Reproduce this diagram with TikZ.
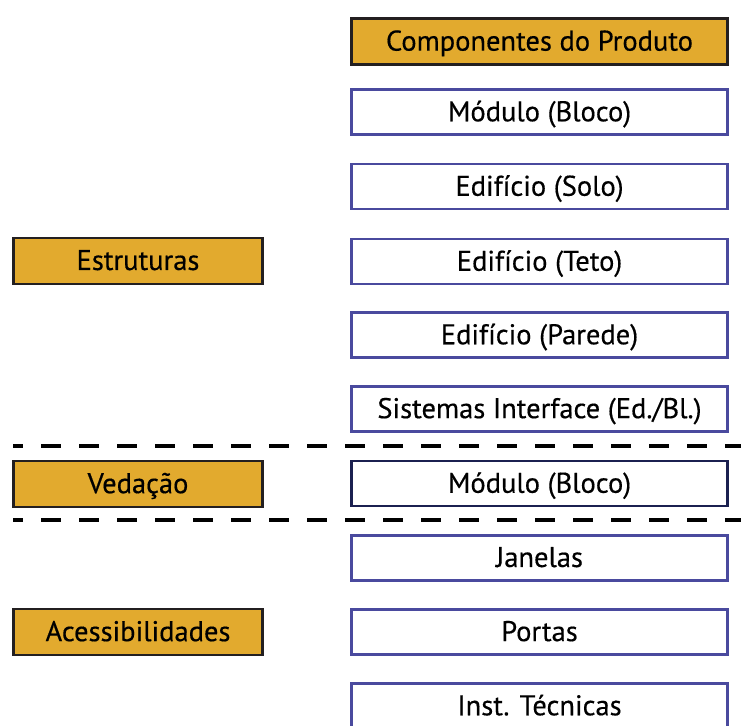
\documentclass[tikz,border=0pt]{standalone}
\usepackage{fontspec}
\setmainfont[FakeBold=0.4]{PT Sans}
\definecolor{gold}{HTML}{E2AA2E}
\definecolor{darkedge}{HTML}{231F20}
\definecolor{blueedge}{HTML}{4A4A9E}
\definecolor{navyedge}{HTML}{1B2050}
\begin{document}
\begin{tikzpicture}[x=1pt,y=-1pt,
  every node/.style={inner sep=0pt,outer sep=0pt,font=\fontsize{28.5}{32}\selectfont,text=black,text depth=2pt},
  goldbox/.style={draw=darkedge,line width=2.8pt,fill=gold,minimum height=46pt},
  rightbox/.style={draw=blueedge,line width=2.4pt,fill=white,minimum width=376pt,minimum height=45pt},
  sepline/.style={line width=3.4pt,dash pattern=on 20pt off 18pt,dash phase=10pt}]
\useasboundingbox (0,0) rectangle (741,725);
\begin{scope}
\clip (0,0) rectangle (741,725);
\node[goldbox,minimum width=376pt] (top) at (539.5,41.5) {Componentes do Produto};
\node[rightbox] (r1) at (539.5,112) {Módulo (Bloco)};
\node[rightbox] (r2) at (539.5,186.5) {Edifício (Solo)};
\node[rightbox] (r3) at (539.5,261.5) {Edifício (Teto)};
\node[rightbox] (r4) at (539.5,335) {Edifício (Parede)};
\node[rightbox] (r5) at (539.5,409) {Sistemas Interface (Ed./Bl.)};
\node[rightbox,draw=navyedge] (r6) at (539.5,483.5) {Módulo (Bloco)};
\node[rightbox] (r7) at (539.5,558) {Janelas};
\node[rightbox] (r8) at (539.5,632) {Portas};
\node[rightbox] (r9) at (539.5,706) {Inst. Técnicas};
\node[goldbox,minimum width=249pt] (l1) at (138,261) {Estruturas};
\node[goldbox,minimum width=249pt] (l2) at (138,484) {Vedação};
\node[goldbox,minimum width=249pt] (l3) at (138,632) {Acessibilidades};
\coordinate (d1a) at (13,446);
\coordinate (d1b) at (745,446);
\coordinate (d2a) at (13,520);
\coordinate (d2b) at (745,520);
\draw[sepline] (d1a) -- (d1b);
\draw[sepline] (d2a) -- (d2b);
\end{scope}
\end{tikzpicture}
\end{document}
